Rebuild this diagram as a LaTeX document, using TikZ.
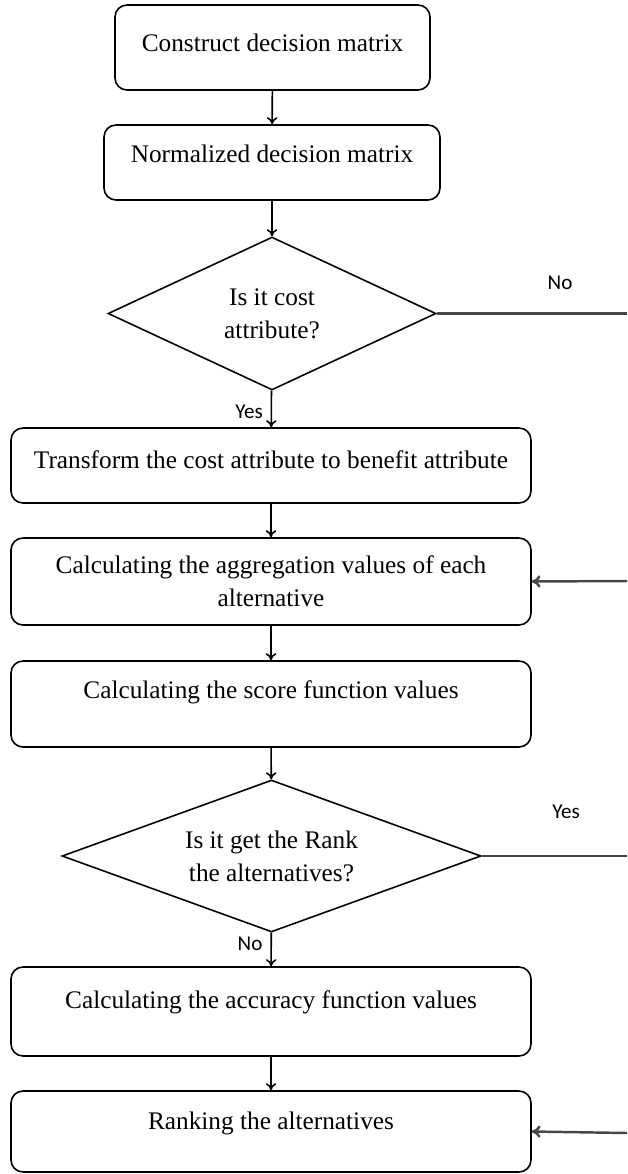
\documentclass[tikz,border=0pt]{standalone}
\usepackage{fontspec}
\setmainfont{Liberation Serif}
\newfontfamily\labelfont{Carlito}
\usetikzlibrary{shapes.geometric}
\usetikzlibrary{arrows.meta}
\usetikzlibrary{positioning}

\tikzset{
  flowbox/.style={draw, rounded corners=12*0.02cm, line width=0.9pt, align=center, inner sep=0pt, font=\fontsize{14.4}{18.7}\selectfont},
  decision/.style={draw, diamond, line width=0.9pt, align=center, inner sep=0pt, aspect=2.7, font=\fontsize{14.4}{18.7}\selectfont},
  flowline/.style={line width=1.4pt, draw=black!72},
  flowarrow/.style={line width=0.9pt, -{To[length=4pt,width=6pt]}},
  answer/.style={font=\labelfont\fontsize{12}{14}\selectfont}
}

\begin{document}
\begin{tikzpicture}[x=0.02cm, y=-0.02cm]
\useasboundingbox (0,0) rectangle (627,1174);

% Block 1
  \node[flowbox, minimum width=315*0.02cm, minimum height=85*0.02cm, text depth=5pt] (construct) at (272.5,47.5) {Construct decision matrix};
% Block 2
  \node[flowbox, minimum width=336*0.02cm, minimum height=75*0.02cm, text depth=10pt] (normal) at (272,162.5) {Normalized decision matrix};
% Decision 1
  \node[decision, minimum width=328*0.02cm, minimum height=153*0.02cm] (cost) at (272,313.5) {Is it cost\\attribute?};
% Block 3
  \node[flowbox, minimum width=520*0.02cm, minimum height=75*0.02cm, text depth=7pt] (transform) at (271,465.5) {Transform the cost attribute to benefit attribute};
% Block 4
  \node[flowbox, minimum width=520*0.02cm, minimum height=87*0.02cm] (aggregate) at (271,581.5) {Calculating the aggregation values of each\\alternative};
% Block 5
  \node[flowbox, minimum width=520*0.02cm, minimum height=86*0.02cm, text depth=16pt] (score) at (271,704) {Calculating the score function values};
% Decision 2
  \node[decision, minimum width=419*0.02cm, minimum height=152*0.02cm] (rank) at (271.5,856) {Is it get the Rank\\the alternatives?};
% Block 6
  \node[flowbox, minimum width=520*0.02cm, minimum height=89*0.02cm, text depth=14pt] (accuracy) at (271,1011.5) {Calculating the accuracy function values};
% Block 7
  \node[flowbox, minimum width=520*0.02cm, minimum height=81*0.02cm, text depth=12pt] (ranking) at (271,1131.5) {Ranking the alternatives};

% loose ends at the right border
  \coordinate (noend) at (627,313.5);
  \coordinate (noback) at (627,581);
  \coordinate (yesend) at (627,856);
  \coordinate (yesback) at (627,1133);

% main flow
  \draw[flowarrow] (construct) -- (normal);
  \draw[flowarrow] (normal) -- (cost);
  \draw[flowarrow] (cost) -- (transform);
  \draw[flowarrow] (transform) -- (aggregate);
  \draw[flowarrow] (aggregate) -- (score);
  \draw[flowarrow] (score) -- (rank);
  \draw[flowarrow] (rank) -- (accuracy);
  \draw[flowarrow] (accuracy) -- (ranking);

% side branches
  \draw[flowline] (cost.east) -- (noend);
  \draw[flowline, -{To[length=5pt,width=7pt]}] (noback) -- (aggregate.east);
  \draw[flowline] (rank.east) -- (yesend);
  \draw[flowline, -{To[length=5pt,width=7pt]}] (yesback) -- (ranking.east);

% answers
  \node[answer] (costno) at (560,283) {No};
  \node[answer] (costyes) at (249,412) {Yes};
  \node[answer] (rankyes) at (566,812) {Yes};
  \node[answer] (rankno) at (250,944) {No};

\end{tikzpicture}
\end{document}
